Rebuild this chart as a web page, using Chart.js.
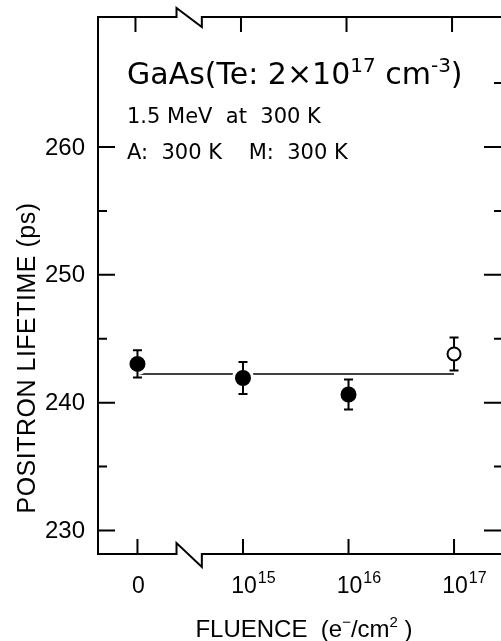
<!DOCTYPE html>
<html>
<head>
<meta charset="utf-8">
<script src="https://cdn.jsdelivr.net/npm/chart.js@4.4.0/dist/chart.umd.min.js"></script>
<style>
  html, body { margin: 0; padding: 0; background: #fff; overflow: hidden; }
</style>
</head>
<body>
<canvas id="lifetimeChart" width="501" height="641"></canvas>
<script>
// data
var fluenceLabels = ['0', '10^15', '10^16', '10^17'];
var fluencePos = [0, 1, 2, 3];
var lifetime = [243.03, 241.93, 240.64, 243.81];
var lifetimeErr = [1.06, 1.25, 1.17, 1.29];
var openPoint = [false, false, false, true];
var meanLifetime = 242.25;
var yMajorTicks = [230, 240, 250, 260];
var yMinorTicks = [235, 245, 255, 265];

var NUM_FONT = '"Liberation Sans", Arial, sans-serif';
var TXT_FONT = '"DejaVu Sans", sans-serif';

var filledPts = [], openPts = [];
for (var i = 0; i < lifetime.length; i++) {
    var p = { x: fluencePos[i], y: lifetime[i] };
    if (openPoint[i]) openPts.push(p); else filledPts.push(p);
}

// draws a row of text pieces: [text, size, rise, family]
function drawRuns(ctx, runs, x, y, align) {
    var w = 0;
    runs.forEach(function(r) {
        ctx.font = r[1] + 'px ' + (r[3] || NUM_FONT);
        w += ctx.measureText(r[0]).width;
    });
    var cx = align === 'center' ? x - w / 2 : x;
    ctx.textAlign = 'left';
    ctx.textBaseline = 'alphabetic';
    runs.forEach(function(r) {
        ctx.font = r[1] + 'px ' + (r[3] || NUM_FONT);
        ctx.fillText(r[0], cx, y - (r[2] || 0));
        cx += ctx.measureText(r[0]).width;
    });
}

var paperPlugin = {
    id: 'paper',
    afterDatasetsDraw: function(chart) {
        var ctx = chart.ctx, xs = chart.scales.x, ys = chart.scales.y;
        ctx.save();
        ctx.strokeStyle = '#000';
        ctx.lineWidth = 2;
        for (var i = 0; i < lifetime.length; i++) {
            var px = xs.getPixelForValue(fluencePos[i]);
            var pc = ys.getPixelForValue(lifetime[i]);
            var pt = ys.getPixelForValue(lifetime[i] + lifetimeErr[i]);
            var pb = ys.getPixelForValue(lifetime[i] - lifetimeErr[i]);
            var r = openPoint[i] ? 6.5 : 7.5;
            ctx.beginPath();
            ctx.moveTo(px, pt); ctx.lineTo(px, pc - r);
            ctx.moveTo(px, pc + r); ctx.lineTo(px, pb);
            ctx.moveTo(px - 4.5, pt); ctx.lineTo(px + 4.5, pt);
            ctx.moveTo(px - 4.5, pb); ctx.lineTo(px + 4.5, pb);
            ctx.stroke();
        }
        ctx.restore();
    },
    afterDraw: function(chart) {
        var ctx = chart.ctx, xs = chart.scales.x, ys = chart.scales.y;
        var a = chart.chartArea;
        var L = a.left, T = a.top, B = a.bottom, R = a.right;
        var b1 = xs.getPixelForValue(0.37), b2 = xs.getPixelForValue(0.61);
        ctx.save();
        ctx.strokeStyle = '#000';
        ctx.fillStyle = '#000';
        ctx.lineWidth = 2;
        ctx.lineCap = 'square';
        // frame with axis breaks
        ctx.beginPath();
        ctx.moveTo(R + 2, T); ctx.lineTo(b2, T); ctx.lineTo(b2, T + 10);
        ctx.lineTo(b1, T - 9); ctx.lineTo(b1, T); ctx.lineTo(L, T); ctx.lineTo(L, B);
        ctx.lineTo(b1, B); ctx.lineTo(b1, B - 11); ctx.lineTo(b2, B + 13);
        ctx.lineTo(b2, B); ctx.lineTo(R + 2, B);
        ctx.stroke();
        ctx.lineCap = 'butt';
        // y ticks, inward on both sides
        ctx.beginPath();
        yMajorTicks.forEach(function(v) {
            var py = ys.getPixelForValue(v);
            ctx.moveTo(L, py); ctx.lineTo(L + 17, py);
            ctx.moveTo(R - 17, py); ctx.lineTo(R, py);
        });
        yMinorTicks.forEach(function(v) {
            var py = ys.getPixelForValue(v);
            if (v < 262) { ctx.moveTo(L, py); ctx.lineTo(L + 9, py); }
            ctx.moveTo(R - 7, py); ctx.lineTo(R, py);
        });
        // x ticks top and bottom
        fluencePos.forEach(function(v) {
            var px = xs.getPixelForValue(v);
            ctx.moveTo(px, B); ctx.lineTo(px, B - 15);
            ctx.moveTo(px - 2, T); ctx.lineTo(px - 2, T + 15);
        });
        ctx.stroke();

        // y tick labels
        ctx.font = '24px ' + NUM_FONT;
        ctx.textAlign = 'right';
        ctx.textBaseline = 'middle';
        yMajorTicks.forEach(function(v) {
            ctx.fillText(String(v), 85, ys.getPixelForValue(v) + 1);
        });
        // x tick labels with exponents
        fluenceLabels.forEach(function(lab, i) {
            var px = xs.getPixelForValue(fluencePos[i]);
            var parts = lab.split('^');
            ctx.font = '23px ' + NUM_FONT;
            ctx.textAlign = 'center';
            ctx.textBaseline = 'alphabetic';
            ctx.fillText(parts[0], px + 1, 593);
            if (parts[1]) {
                var bw = ctx.measureText(parts[0]).width;
                ctx.font = '16px ' + NUM_FONT;
                ctx.textAlign = 'left';
                ctx.fillText(parts[1], px + 1 + bw / 2 + 1, 583);
            }
        });
        // axis titles
        drawRuns(ctx, [['FLUENCE  (e', 24], ['\u2212', 15, 10], ['/cm', 24], ['2', 15, 10], [' )', 24]], 304, 637, 'center');
        ctx.save();
        ctx.translate(35, 358);
        ctx.rotate(-Math.PI / 2);
        ctx.letterSpacing = '0.5px';
        ctx.font = '25px ' + NUM_FONT;
        ctx.textAlign = 'center';
        ctx.textBaseline = 'alphabetic';
        ctx.fillText('POSITRON LIFETIME (ps)', 0, 0);
        ctx.restore();

        // sample annotation
        drawRuns(ctx, [['GaAs(Te: 2\u00d710', 30, 0, TXT_FONT], ['17', 20, 12, TXT_FONT],
                       [' cm', 30, 0, TXT_FONT], ['-3', 20, 12, TXT_FONT], [')', 30, 0, TXT_FONT]], 127, 84);
        drawRuns(ctx, [['1.5 MeV  at  300 K', 21, 0, TXT_FONT]], 127, 123);
        drawRuns(ctx, [['A:  300 K    M:  300 K', 21, 0, TXT_FONT]], 127, 159);
        ctx.restore();
    }
};

var ctx = document.getElementById('lifetimeChart').getContext('2d');
var myChart = new Chart(ctx, {
    type: 'scatter',
    data: {
        datasets: [{
            type: 'line',
            label: 'mean',
            data: [{ x: 0, y: meanLifetime }, { x: 3, y: meanLifetime }],
            borderColor: '#000',
            borderWidth: 1.5,
            pointRadius: 0,
            order: 3
        }, {
            label: 'irradiated',
            data: filledPts,
            pointStyle: 'circle',
            pointRadius: 9.5,
            pointBackgroundColor: '#000',
            pointBorderColor: '#fff',
            pointBorderWidth: 3,
            order: 1
        }, {
            label: 'open',
            data: openPts,
            pointStyle: 'circle',
            pointRadius: 6.5,
            pointBackgroundColor: '#fff',
            pointBorderColor: '#000',
            pointBorderWidth: 2,
            order: 1
        }]
    },
    options: {
        responsive: false,
        animation: false,
        devicePixelRatio: 1,
        layout: { autoPadding: false, padding: { left: 98, right: 0, top: 17, bottom: 87 } },
        plugins: {
            legend: { display: false },
            tooltip: { enabled: false }
        },
        scales: {
            x: { type: 'linear', display: false, min: -0.374, max: 3.445 },
            y: { type: 'linear', display: false, min: 228.16, max: 270.17 }
        }
    },
    plugins: [paperPlugin]
});
</script>
</body>
</html>
